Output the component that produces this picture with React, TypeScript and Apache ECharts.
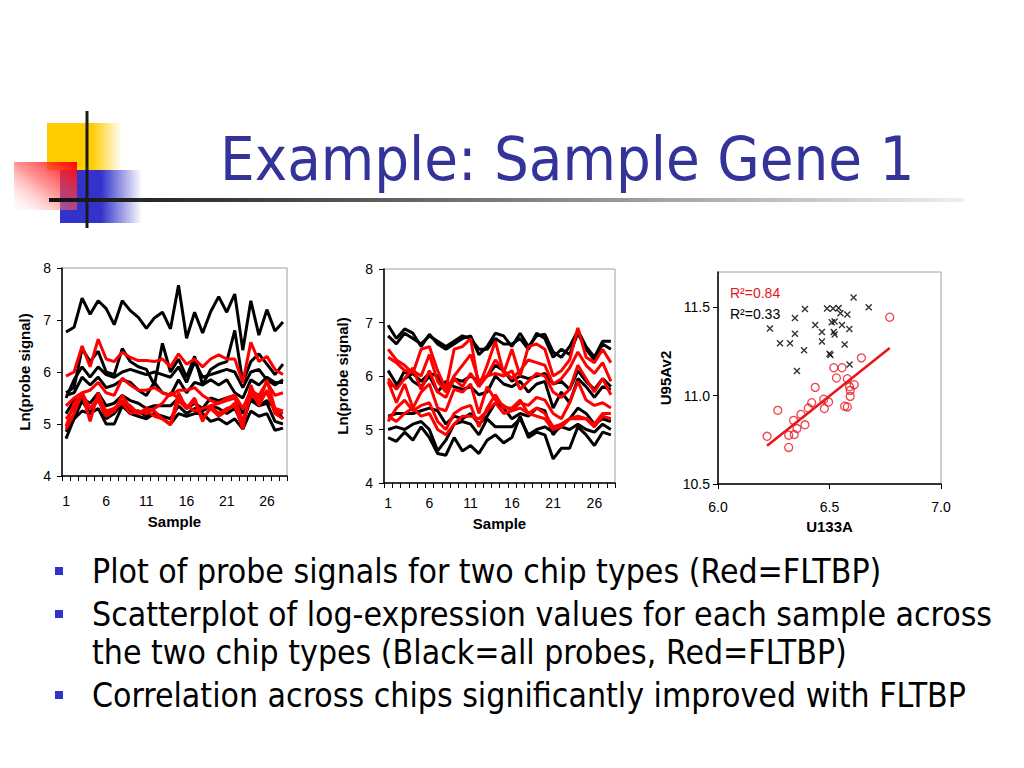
import React, { useEffect, useRef } from 'react';
import * as echarts from 'echarts';

const samples = ['1','2','3','4','5','6','7','8','9','10','11','12','13','14','15','16','17','18','19','20','21','22','23','24','25','26','27','28'];

// Chart 1 (left) - black probes
const chart1Black = [
  [6.77,6.86,7.42,7.11,7.37,7.22,6.91,7.37,7.18,7.05,6.84,7.04,7.15,6.83,7.67,6.65,7.15,6.75,7.16,7.45,7.15,7.5,6.42,7.37,6.71,7.2,6.79,6.96],
  [5.6,5.7,6.45,6.2,6.4,6.0,5.95,6.45,6.2,6.1,6.05,5.75,6.55,6.0,6.25,5.9,6.3,5.75,6.05,6.15,6.2,6.8,5.8,6.2,6.35,6.15,5.95,6.15],
  [5.5,5.85,6.1,5.9,6.1,5.95,5.9,6.0,6.05,6.0,5.95,6.0,5.95,5.9,6.1,5.8,6.2,5.9,5.95,6.0,6.05,6.0,5.7,6.0,6.05,5.85,5.75,5.85],
  [5.55,5.6,5.9,5.75,5.9,5.7,5.75,5.85,5.8,5.65,5.55,5.8,5.6,5.55,5.85,5.6,5.8,5.75,5.85,5.75,5.85,5.6,5.5,5.85,5.75,5.9,5.8,5.8],
  [5.2,5.45,5.5,5.4,5.6,5.35,5.4,5.55,5.45,5.4,5.3,5.35,5.35,5.35,5.5,5.3,5.4,5.3,5.5,5.45,5.5,5.55,5.2,5.45,5.35,5.45,5.3,5.1],
  [4.72,5.1,5.25,5.2,5.3,5.0,5.0,5.35,5.2,5.15,5.1,5.2,5.1,5.0,5.2,5.15,5.2,5.2,5.05,5.1,5.0,5.1,4.9,5.25,5.15,5.2,4.88,4.92],
  [4.85,5.1,5.45,5.2,5.5,5.1,5.2,5.4,5.25,5.25,5.15,5.2,5.15,5.1,5.35,5.2,5.3,5.25,5.35,5.3,5.2,5.3,5.0,5.5,5.35,5.4,5.05,5.0]
];
// Chart 1 - red (FLTBP)
const chart1Red = [
  [5.92,6.0,6.5,6.1,6.63,6.25,6.2,6.38,6.28,6.22,6.22,6.2,6.25,6.1,6.35,6.15,6.25,6.1,6.25,6.33,6.25,6.25,5.8,6.57,6.2,6.3,6.05,5.95],
  [5.35,5.5,5.6,5.65,5.8,5.6,5.55,5.88,5.75,5.65,5.65,5.7,5.6,5.55,5.65,5.65,5.7,5.55,5.45,5.4,5.5,5.55,5.3,5.65,5.55,5.8,5.55,5.6],
  [5.1,5.3,5.58,5.05,5.6,5.2,5.3,5.45,5.35,5.2,5.3,5.25,5.1,5.0,5.6,5.3,5.45,5.05,5.35,5.2,5.3,5.35,4.9,5.75,5.35,5.65,5.2,5.1],
  [4.95,5.4,5.55,5.3,5.5,5.25,5.3,5.4,5.2,5.25,5.2,5.3,5.4,5.6,5.5,5.35,5.25,5.3,5.35,5.4,5.45,5.5,5.05,5.55,5.5,5.6,5.25,5.2],
  [4.9,5.2,5.6,5.3,5.45,5.15,5.25,5.55,5.3,5.2,5.25,5.15,5.1,4.98,5.45,5.3,5.5,5.1,5.3,5.15,5.25,5.4,5.0,5.6,5.4,5.85,5.3,5.25]
];

// Chart 2 (middle) - black probes
const chart2Black = [
  [6.95,6.7,6.88,6.8,6.55,6.78,6.6,6.5,6.6,6.7,6.75,6.4,6.55,6.8,6.75,6.55,6.8,6.55,6.75,6.78,6.45,6.35,6.55,6.85,6.55,6.35,6.65,6.65],
  [6.75,6.6,6.8,6.7,6.6,6.75,6.65,6.55,6.65,6.75,6.7,6.5,6.5,6.7,6.6,6.6,6.7,6.5,6.8,6.7,6.35,6.5,6.4,6.8,6.5,6.3,6.6,6.5],
  [6.1,5.85,5.95,6.05,5.9,6.05,6.0,5.75,5.95,5.9,6.0,5.9,6.0,6.2,6.1,5.9,6.0,5.95,6.0,6.05,5.85,5.9,5.75,6.1,5.9,5.75,5.95,5.8],
  [5.85,5.8,6.1,5.9,5.8,6.0,5.7,5.9,5.8,5.75,5.8,5.65,5.7,6.0,5.85,5.8,5.9,5.7,5.85,5.9,5.4,5.7,5.5,5.95,5.8,5.6,5.8,5.75],
  [5.25,5.3,5.3,5.3,5.35,5.4,5.35,5.1,5.25,5.2,5.3,5.1,5.25,5.5,5.4,5.2,5.3,5.25,5.4,5.35,4.9,5.1,5.2,5.4,5.3,5.1,5.2,5.15],
  [5.0,5.05,5.0,5.1,5.15,5.0,4.6,4.8,5.1,5.15,5.1,4.9,5.2,5.05,5.05,5.05,5.2,4.9,5.0,5.05,4.95,5.05,5.0,5.1,5.0,4.95,5.1,5.0],
  [4.85,4.78,4.95,4.8,5.05,4.85,4.55,4.52,4.85,4.6,4.7,4.55,4.8,4.9,4.75,4.85,5.25,4.85,4.95,4.9,4.45,4.65,4.65,5.05,4.9,4.7,4.95,4.9]
];
// Chart 2 - red (FLTBP)
const chart2Red = [
  [6.5,6.3,6.2,6.05,6.5,6.55,6.1,5.75,6.5,6.55,6.7,5.8,6.2,6.65,6.05,6.5,6.0,6.55,6.6,6.5,6.0,6.1,6.3,6.9,6.35,6.25,6.5,6.25],
  [6.35,6.25,6.1,6.1,6.0,6.4,5.9,5.7,6.0,6.2,6.4,5.9,6.0,6.3,6.1,5.95,6.1,6.3,6.25,6.2,5.85,5.95,6.15,6.45,6.2,6.05,6.25,5.9],
  [5.95,5.75,5.95,6.15,5.75,6.1,5.7,5.6,5.95,5.8,6.05,5.8,6.0,6.05,6.0,6.1,5.75,5.9,6.05,6.0,5.7,5.6,5.75,6.2,5.95,5.7,5.95,5.65],
  [5.9,5.5,5.85,5.4,5.7,5.85,5.4,5.35,5.75,5.7,5.85,5.3,5.8,5.55,5.45,5.35,5.5,5.45,5.6,5.55,5.3,5.2,5.5,5.9,5.55,5.45,5.5,5.4],
  [5.15,5.4,5.55,5.35,5.45,5.5,5.15,5.0,5.3,5.4,5.45,5.05,5.4,5.65,5.4,5.4,5.55,5.3,5.4,5.3,5.05,5.1,5.2,5.2,5.2,5.1,5.3,5.3],
  [5.25,5.15,5.3,5.4,5.25,5.3,5.0,4.9,5.1,5.25,5.25,5.2,5.35,5.5,5.3,5.35,5.4,5.3,5.25,5.2,5.0,5.05,5.2,5.25,5.2,5.05,5.25,5.2]
];

// Scatter: [U133A, U95Av2]
const scatterAllProbes = [
  [6.233,11.38],[6.278,11.297],[6.323,11.297],[6.345,11.44],[6.345,11.35],[6.354,11.14],[6.386,11.257],
  [6.39,11.49],[6.436,11.40],[6.466,11.306],[6.466,11.36],[6.489,11.494],[6.50,11.237],[6.504,11.23],
  [6.51,11.415],[6.516,11.494],[6.519,11.36],[6.523,11.346],[6.523,11.42],[6.541,11.496],[6.549,11.466],
  [6.556,11.40],[6.568,11.29],[6.58,11.46],[6.589,11.378],[6.59,11.177],[6.608,11.556],[6.676,11.5]
];
const scatterFltbp = [
  [6.22,10.77],[6.268,10.917],[6.317,10.776],[6.317,10.707],[6.339,10.86],[6.342,10.78],[6.354,10.814],
  [6.372,10.894],[6.39,10.835],[6.405,10.93],[6.42,10.96],[6.436,11.047],[6.474,10.98],[6.477,10.927],
  [6.496,10.964],[6.519,11.158],[6.531,11.10],[6.556,11.158],[6.568,10.94],[6.58,10.936],[6.58,11.096],
  [6.59,11.05],[6.593,11.03],[6.593,10.996],[6.611,11.062],[6.643,11.214],[6.77,11.444]
];
const trendFltbp = [[6.22,10.716],[6.77,11.27]];
const scatterYTicks = [10.5, 11.0, 11.5];
const r2Labels = ['R²=0.84', 'R²=0.33'];

const titleText = 'Example: Sample Gene 1';
const bulletLines = [
  'Plot of probe signals for two chip types (Red=FLTBP)',
  'Scatterplot of log-expression values for each sample across',
  'the two chip types (Black=all probes, Red=FLTBP)',
  'Correlation across chips significantly improved with FLTBP'
];

const AX_FONT = '"Liberation Sans", Arial, sans-serif';
const SLIDE_FONT = '"DejaVu Sans Condensed", "DejaVu Sans", sans-serif';
const RED = '#ff0000';

function lineXAxis(gridIndex: number, margin: number, nameGap: number) {
  return {
    type: 'category', gridIndex, data: samples, boundaryGap: true,
    axisLine: { lineStyle: { color: '#000', width: 1.5 } },
    axisTick: { show: true, interval: 0, length: 5, lineStyle: { color: '#000' } },
    axisLabel: { interval: 4, color: '#000', fontSize: 14, fontFamily: AX_FONT, margin },
    splitLine: { show: false },
    name: 'Sample', nameLocation: 'middle', nameGap,
    nameTextStyle: { fontWeight: 'bold', fontSize: 15, color: '#000', fontFamily: AX_FONT }
  };
}
function lineYAxis(gridIndex: number, nameGap: number) {
  return {
    type: 'value', gridIndex, min: 4, max: 8, interval: 1,
    axisLine: { show: true, lineStyle: { color: '#000', width: 1.5 } },
    axisTick: { show: true, length: 5, lineStyle: { color: '#000' } },
    axisLabel: { color: '#000', fontSize: 14, fontFamily: AX_FONT, margin: 11 },
    splitLine: { show: false },
    name: 'Ln(probe signal)', nameLocation: 'middle', nameGap, nameRotate: 90,
    nameTextStyle: { fontWeight: 'bold', fontSize: 15, color: '#000', fontFamily: AX_FONT }
  };
}

export default function App() {
  const ref = useRef<HTMLDivElement>(null);
  useEffect(() => {
    if (!ref.current) return;
    const chart = echarts.init(ref.current, undefined, { renderer: 'svg' });
    const series: any[] = [];
    chart1Black.forEach((d) => series.push({ type: 'line', xAxisIndex: 0, yAxisIndex: 0, data: d, symbol: 'none', lineStyle: { color: '#000', width: 3 }, z: 2 }));
    chart1Red.forEach((d) => series.push({ type: 'line', xAxisIndex: 0, yAxisIndex: 0, data: d, symbol: 'none', lineStyle: { color: RED, width: 3 }, z: 3 }));
    chart2Black.forEach((d) => series.push({ type: 'line', xAxisIndex: 1, yAxisIndex: 1, data: d, symbol: 'none', lineStyle: { color: '#000', width: 3 }, z: 2 }));
    chart2Red.forEach((d) => series.push({ type: 'line', xAxisIndex: 1, yAxisIndex: 1, data: d, symbol: 'none', lineStyle: { color: RED, width: 3 }, z: 3 }));
    series.push({
      type: 'scatter', xAxisIndex: 2, yAxisIndex: 2, data: scatterAllProbes,
      symbol: 'path://M0,0L10,10M10,0L0,10', symbolSize: 6,
      itemStyle: { color: 'none', borderColor: '#000', borderWidth: 1.4 }, z: 3
    });
    series.push({
      type: 'scatter', xAxisIndex: 2, yAxisIndex: 2, data: scatterFltbp,
      symbol: 'circle', symbolSize: 8,
      itemStyle: { color: 'rgba(255,255,255,0)', borderColor: '#e8141b', borderWidth: 1.3 }, z: 3
    });
    series.push({
      type: 'line', xAxisIndex: 2, yAxisIndex: 2, data: trendFltbp, symbol: 'none',
      lineStyle: { color: '#e8141b', width: 2.5 }, z: 4
    });

    const lineGrad = (stops: [number, string][]) => new echarts.graphic.LinearGradient(0, 0, 1, 0, stops.map(([offset, color]) => ({ offset, color })));

    const graphics: any[] = [
      { type: 'rect', shape: { x: 47, y: 123, width: 75, height: 47 }, style: { fill: lineGrad([[0, '#ffcc00'], [0.6, '#ffcc00'], [1, 'rgba(255,204,0,0)']]) }, z: 1 },
      { type: 'rect', shape: { x: 60, y: 170, width: 82, height: 53 }, style: { fill: lineGrad([[0, '#3333cc'], [0.5, '#3333cc'], [1, 'rgba(51,51,204,0)']]) }, z: 1 },
      { type: 'rect', shape: { x: 14, y: 162, width: 63, height: 48 }, style: { fill: new echarts.graphic.LinearGradient(1, 0, 0, 1, [{ offset: 0, color: '#ff0000' }, { offset: 0.5, color: 'rgba(255,80,80,0.6)' }, { offset: 1, color: 'rgba(255,255,255,0.2)' }]) }, z: 2 },
      { type: 'rect', shape: { x: 49, y: 198, width: 915, height: 4 }, style: { fill: lineGrad([[0, '#111'], [0.25, '#444'], [1, '#eeeeee']]) }, z: 3 },
      { type: 'rect', shape: { x: 85.5, y: 111, width: 3, height: 117 }, style: { fill: '#1a1a1a' }, z: 4 },
      { type: 'text', x: 220, y: 158, style: { text: titleText, fill: '#333399', fontSize: 61, fontFamily: SLIDE_FONT, verticalAlign: 'middle' }, z: 5 },
      { type: 'text', x: 730, y: 293, style: { text: r2Labels[0], fill: '#e8141b', fontSize: 14, fontFamily: AX_FONT, verticalAlign: 'middle' }, z: 5 },
      { type: 'text', x: 730, y: 314, style: { text: r2Labels[1], fill: '#000', fontSize: 14, fontFamily: AX_FONT, verticalAlign: 'middle' }, z: 5 }
    ];
    const bulletY = [571, 614, 652, 695];
    const bulletOn = [true, true, false, true];
    bulletLines.forEach((t, i) => {
      if (bulletOn[i]) graphics.push({ type: 'rect', shape: { x: 55, y: bulletY[i] - 4, width: 8, height: 8 }, style: { fill: '#3333cc' }, z: 5 });
      graphics.push({ type: 'text', x: 92, y: bulletY[i], style: { text: t, fill: '#000', fontSize: 33.5, fontFamily: SLIDE_FONT, verticalAlign: 'middle' }, z: 5 });
    });

    chart.setOption({
      animation: false,
      backgroundColor: '#fff',
      grid: [
        { left: 62, top: 268, width: 225, height: 208, show: true, borderColor: '#a0a0a0', borderWidth: 1, containLabel: false },
        { left: 384, top: 269, width: 231, height: 214, show: true, borderColor: '#a0a0a0', borderWidth: 1, containLabel: false },
        { left: 718, top: 272, width: 223, height: 212, show: true, borderColor: '#a0a0a0', borderWidth: 1, containLabel: false }
      ],
      xAxis: [
        lineXAxis(0, 18, 38),
        lineXAxis(1, 13, 33),
        {
          type: 'value', gridIndex: 2, min: 6, max: 7, interval: 0.5,
          axisLine: { lineStyle: { color: '#000', width: 1.5 } },
          axisTick: { show: true, length: 5, lineStyle: { color: '#000' } },
          axisLabel: { color: '#000', fontSize: 14, fontFamily: AX_FONT, margin: 16, formatter: (v: number) => v.toFixed(1) },
          splitLine: { show: false },
          name: 'U133A', nameLocation: 'middle', nameGap: 35,
          nameTextStyle: { fontWeight: 'bold', fontSize: 15, color: '#000', fontFamily: AX_FONT }
        }
      ],
      yAxis: [
        lineYAxis(0, 30),
        lineYAxis(1, 34),
        {
          type: 'value', gridIndex: 2, min: 10.5, max: 11.7, interval: 0.5,
          axisLine: { show: true, lineStyle: { color: '#000', width: 1.5 } },
          axisTick: { show: true, length: 5, lineStyle: { color: '#000' }, customValues: scatterYTicks },
          axisLabel: { color: '#000', fontSize: 14, fontFamily: AX_FONT, margin: 8, customValues: scatterYTicks, formatter: (v: number) => v.toFixed(1) },
          splitLine: { show: false },
          name: 'U95Av2', nameLocation: 'middle', nameGap: 45, nameRotate: 90,
          nameTextStyle: { fontWeight: 'bold', fontSize: 15, color: '#000', fontFamily: AX_FONT }
        }
      ],
      series,
      graphic: graphics
    });
    return () => chart.dispose();
  }, []);
  return <div ref={ref} style={{ position: 'absolute', left: 0, top: 0, width: 1024, height: 768 }} />;
}
